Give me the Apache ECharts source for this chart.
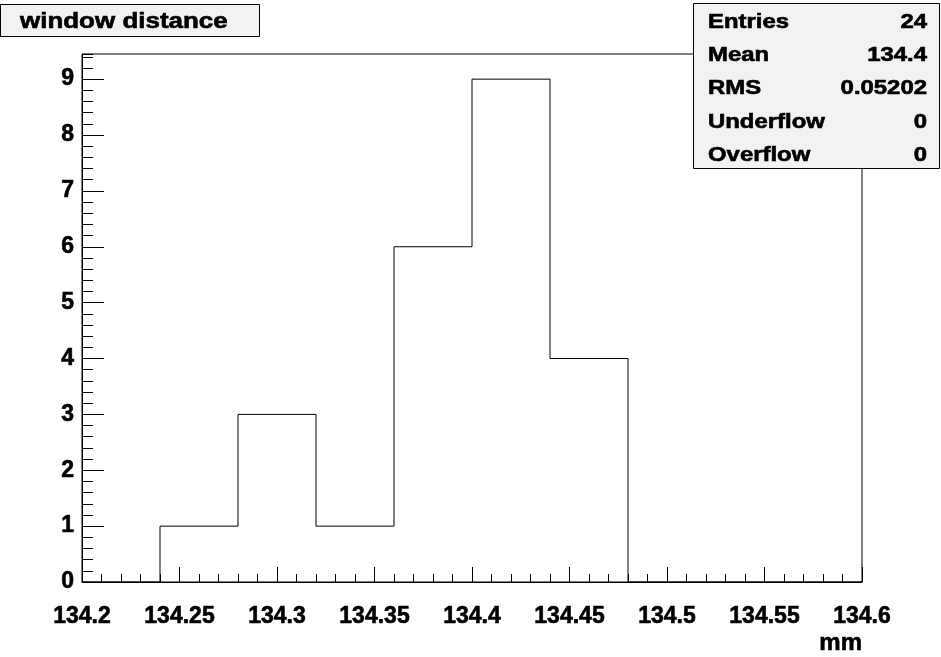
<!DOCTYPE html>
<html>
<head>
<meta charset="utf-8">
<title>window distance</title>
<script src="https://cdn.jsdelivr.net/npm/echarts@6/dist/echarts.min.js"></script>
<style>
  html, body { margin: 0; padding: 0; background: #ffffff; }
  #chart { width: 941px; height: 657px; }
</style>
</head>
<body>
<div id="chart"></div>
<script>
// Histogram bins: edges (mm) and entries per bin
const binEdges = [134.20, 134.24, 134.28, 134.32, 134.36, 134.40, 134.44, 134.48, 134.52, 134.56, 134.60];
const binCounts = [0, 1, 3, 1, 6, 9, 4, 0, 0, 0];

// Axis tick labels
const xTickLabels = ['134.2', '134.25', '134.3', '134.35', '134.4', '134.45', '134.5', '134.55', '134.6'];
const yTickLabels = ['0', '1', '2', '3', '4', '5', '6', '7', '8', '9'];

// Statistics box
const statNames = ['Entries', 'Mean', 'RMS', 'Underflow', 'Overflow'];
const statValues = ['24', '134.4', '0.05202', '0', '0'];

const histTitle = 'window distance';
const xAxisTitle = 'mm';

const X_MIN = 134.2, X_MAX = 134.6, X_STEP = 0.05;
const Y_MAX = 9.45;

// Step outline: each bin drawn at its height from its lower to upper edge
const outline = [];
for (let i = 0; i < binCounts.length; i++) {
  outline.push([binEdges[i], binCounts[i]]);
}
outline.push([binEdges[binEdges.length - 1], binCounts[binCounts.length - 1]]);

const FONT = 'Liberation Sans';
const chart = echarts.init(document.getElementById('chart'), null, { renderer: 'canvas' });

// Heavier glyph weight: bold face plus a thin outline in the same colour
const HEAVY = { textBorderColor: '#000', textBorderWidth: 0.6 };
const heavyText = (text, size, align) => ({
  text, font: 'bold ' + size + 'px "' + FONT + '"', fill: '#000',
  stroke: '#000', lineWidth: 0.6,
  textAlign: align, textVerticalAlign: 'middle'
});

// Text in the title and statistics boxes is drawn slightly widened
const WIDE = 1.22;

const statsX = 693, statsY = 3, statsW = 246, statsH = 165;
const statsElems = [{
  type: 'rect',
  shape: { x: statsX + 0.5, y: statsY + 0.5, width: statsW, height: statsH },
  style: { fill: '#f2f2f2', stroke: '#000', lineWidth: 1 },
  z: 10
}];
statNames.forEach((name, i) => {
  const cy = 22.5 + i * 33.2;
  statsElems.push({
    type: 'text', x: 708, y: cy, z: 11, scaleX: WIDE,
    style: heavyText(name, 19.6, 'left')
  });
  statsElems.push({
    type: 'text', x: 927, y: cy, z: 11, scaleX: WIDE,
    style: heavyText(statValues[i], 19.6, 'right')
  });
});

const option = {
  animation: false,
  backgroundColor: '#ffffff',
  grid: {
    left: 82, right: 79, top: 54, bottom: 75,
    show: true, borderColor: '#000', borderWidth: 1, backgroundColor: 'transparent'
  },
  xAxis: [{
    type: 'value',
    min: X_MIN, max: X_MAX, interval: X_STEP,
    axisLine: { show: true, onZero: false, lineStyle: { color: '#000', width: 1 } },
    axisTick: { show: true, inside: true, length: 15, lineStyle: { color: '#000', width: 1 } },
    minorTick: { show: true, splitNumber: 5, length: 8, lineStyle: { color: '#000', width: 1 } },
    splitLine: { show: false },
    minorSplitLine: { show: false },
    axisLabel: Object.assign({
      show: true, margin: 23, color: '#000',
      fontFamily: FONT, fontWeight: 'bold', fontSize: 23,
      showMinLabel: true, showMaxLabel: true,
      formatter: v => xTickLabels[Math.round((v - X_MIN) / X_STEP)] ?? ''
    }, HEAVY)
  }],
  yAxis: [{
    type: 'value',
    min: 0, max: Y_MAX, interval: 1,
    axisLine: { show: true, onZero: false, lineStyle: { color: '#000', width: 1 } },
    axisTick: { show: true, inside: true, length: 22, lineStyle: { color: '#000', width: 1 } },
    splitLine: { show: false },
    axisLabel: Object.assign({
      show: true, margin: 8, color: '#000',
      fontFamily: FONT, fontWeight: 'bold', fontSize: 23,
      showMaxLabel: false,
      formatter: v => yTickLabels[Math.round(v)] ?? ''
    }, HEAVY)
  }, {
    // minor ticks every 0.2 entries
    type: 'value', position: 'left',
    min: 0, max: Y_MAX, interval: 0.2,
    axisLine: { show: false },
    axisTick: { show: true, inside: true, length: 11, lineStyle: { color: '#000', width: 1 } },
    splitLine: { show: false },
    axisLabel: { show: false }
  }],
  series: [{
    type: 'line',
    xAxisIndex: 0, yAxisIndex: 0,
    step: 'end',
    symbol: 'none',
    lineStyle: { color: '#000', width: 1 },
    data: outline,
    z: 3
  }],
  graphic: [
    {
      type: 'rect',
      shape: { x: 0.5, y: 4.5, width: 259, height: 32 },
      style: { fill: '#f2f2f2', stroke: '#000', lineWidth: 1 },
      z: 10
    },
    {
      type: 'text', x: 20, y: 21.5, z: 11, scaleX: 1.18,
      style: heavyText(histTitle, 22, 'left')
    },
    {
      type: 'text', x: 862, y: 643, z: 11,
      style: heavyText(xAxisTitle, 24, 'right')
    },
    ...statsElems
  ]
};

chart.setOption(option);
</script>
</body>
</html>
